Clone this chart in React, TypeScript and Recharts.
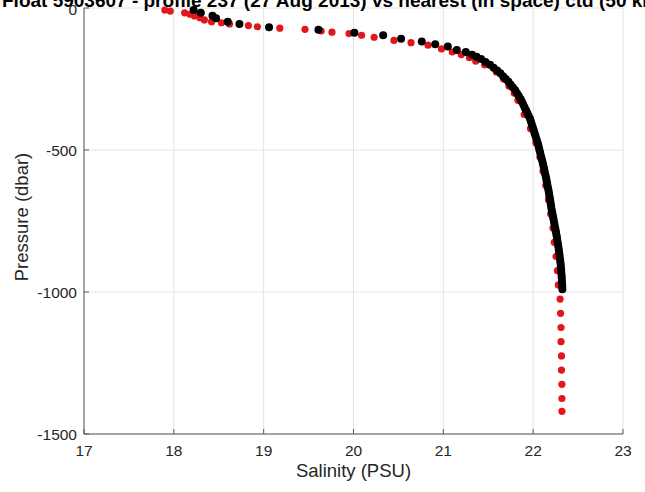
import { ScatterChart, Scatter, XAxis, YAxis, CartesianGrid, Label } from "recharts";

const salinityTicks = [17, 18, 19, 20, 21, 22, 23];
const pressureTicks = [-1500, -1000, -500, 0];

// nearest CTD cast (red)
const ctdPressure = [
  -7, -11, -17, -22, -28, -34, -42, -48, -52, -56, -62, -66, -71, -75, -81, -85, -90, -96, -103, -114,
  -122, -131, -144, -155, -164, -175, -187, -200, -225, -250, -275, -300, -325, -375, -425, -475, -525,
  -575, -625, -675, -725, -775, -825, -875, -925, -975, -1025, -1075, -1125, -1175, -1225, -1275, -1325,
  -1375, -1420,
];
const ctdSalinity = [
  17.9, 17.96, 18.12, 18.18, 18.23, 18.29, 18.34, 18.42, 18.53, 18.62, 18.83, 18.93, 19.18, 19.46, 19.64,
  19.76, 19.95, 20.09, 20.23, 20.45, 20.64, 20.83, 20.98, 21.1, 21.2, 21.29, 21.36, 21.46, 21.59, 21.67,
  21.73, 21.79, 21.83, 21.9, 21.97, 22.03, 22.075, 22.11, 22.14, 22.17, 22.195, 22.22, 22.235, 22.255,
  22.27, 22.28, 22.3, 22.305, 22.31, 22.31, 22.315, 22.315, 22.32, 22.32, 22.32,
];

// float profile (black)
const floatPressure = [
  -7, -17, -27, -36, -48, -56, -68, -77, -87, -96, -108, -118, -128, -136, -148, -155, -165, -172,
  -180, -190, -200, -210, -220, -230, -240, -250, -260, -270, -280, -290, -300, -310, -320, -330, -340,
  -350, -360, -370, -380, -390, -400, -410, -420, -430, -440, -450, -460, -470, -480, -490, -500, -510,
  -520, -530, -540, -550, -560, -570, -580, -590, -600, -610, -620, -630, -640, -650, -660, -670, -680,
  -690, -700, -710, -720, -730, -740, -750, -760, -770, -780, -790, -800, -810, -820, -830, -840, -850,
  -860, -870, -880, -890, -900, -910, -920, -930, -940, -950, -960, -970, -980, -990,
];
const floatSalinity = [
  18.22, 18.3, 18.43, 18.47, 18.6, 18.73, 19.06, 19.61, 20.01, 20.33, 20.53, 20.76, 20.91, 21.05, 21.15,
  21.25, 21.32, 21.37, 21.42, 21.47, 21.52, 21.56, 21.6, 21.635, 21.665, 21.695, 21.725, 21.75, 21.775,
  21.8, 21.82, 21.84, 21.86, 21.875, 21.89, 21.905, 21.92, 21.935, 21.95, 21.965, 21.975, 21.985, 21.995,
  22.005, 22.015, 22.025, 22.035, 22.045, 22.055, 22.063, 22.07, 22.078, 22.086, 22.094, 22.102, 22.11,
  22.117, 22.124, 22.131, 22.138, 22.145, 22.151, 22.157, 22.163, 22.169, 22.175, 22.18, 22.186, 22.191,
  22.196, 22.2, 22.206, 22.212, 22.218, 22.224, 22.23, 22.236, 22.242, 22.248, 22.254, 22.26, 22.265,
  22.27, 22.275, 22.28, 22.285, 22.289, 22.293, 22.297, 22.301, 22.305, 22.308, 22.311, 22.313, 22.316,
  22.318, 22.32, 22.322, 22.324, 22.325,
];

const ctdData = ctdPressure.map((p, i) => ({ sal: ctdSalinity[i], pres: p }));
const floatData = floatPressure.map((p, i) => ({ sal: floatSalinity[i], pres: p }));

const FONT = "Arial, 'Liberation Sans', sans-serif";
const AXIS = "#595959";
const TEXT = "#262626";

const dot = (fill: string, r: number) => (props: any) =>
  <circle cx={props.cx} cy={props.cy} r={r} fill={fill} />;

export default function App() {
  return (
    <div style={{ position: "absolute", left: 0, top: 0, width: 645, height: 492, background: "#fff" }}>
      <ScatterChart width={645} height={492} margin={{ top: 8, right: 22, bottom: 0, left: 0 }}>
        <CartesianGrid stroke="#e3e3e3" />
        <XAxis
          dataKey="sal"
          type="number"
          domain={[17, 23]}
          ticks={salinityTicks}
          height={58}
          stroke={AXIS}
          tickSize={-5}
          tickMargin={16}
          tick={{ fill: TEXT, fontSize: 15.5, fontFamily: FONT }}
        >
          <Label
            content={({ viewBox }: any) => (
              <text
                x={viewBox.x + viewBox.width / 2}
                y={477}
                textAnchor="middle"
                fontSize={18.5}
                fontFamily={FONT}
                fill={TEXT}
              >
                Salinity (PSU)
              </text>
            )}
          />
        </XAxis>
        <XAxis
          xAxisId="top"
          orientation="top"
          type="number"
          domain={[17, 23]}
          ticks={salinityTicks}
          height={0}
          stroke={AXIS}
          tickSize={-5}
          tick={false}
        />
        <YAxis
          dataKey="pres"
          type="number"
          domain={[-1500, 0]}
          ticks={pressureTicks}
          width={84}
          stroke={AXIS}
          tickSize={-5}
          tickMargin={12}
          tick={{ fill: TEXT, fontSize: 15.5, fontFamily: FONT }}
        >
          <Label
            content={({ viewBox }: any) => {
              const cx = 21;
              const cy = viewBox.y + viewBox.height / 2 - 4;
              return (
                <text
                  x={cx}
                  y={cy}
                  transform={`rotate(-90 ${cx} ${cy})`}
                  textAnchor="middle"
                  dominantBaseline="central"
                  fontSize={18.5}
                  fontFamily={FONT}
                  fill={TEXT}
                >
                  Pressure (dbar)
                </text>
              );
            }}
          />
        </YAxis>
        <YAxis
          yAxisId="right"
          orientation="right"
          type="number"
          domain={[-1500, 0]}
          ticks={pressureTicks}
          width={0}
          stroke={AXIS}
          tickSize={-5}
          tick={false}
        />
        <Scatter data={ctdData} shape={dot("#e3161b", 3.6)} isAnimationActive={false} />
        <Scatter data={floatData} shape={dot("#000000", 4)} isAnimationActive={false} />
      </ScatterChart>
      <svg width={645} height={20} style={{ position: "absolute", left: 0, top: 0 }}>
        <text x={2} y={7} fontSize={19} fontWeight="bold" fontFamily={FONT} fill="#000">
          Float 5903607 - profile 237 (27 Aug 2013) vs nearest (in space) ctd (50 km)
        </text>
      </svg>
    </div>
  );
}
